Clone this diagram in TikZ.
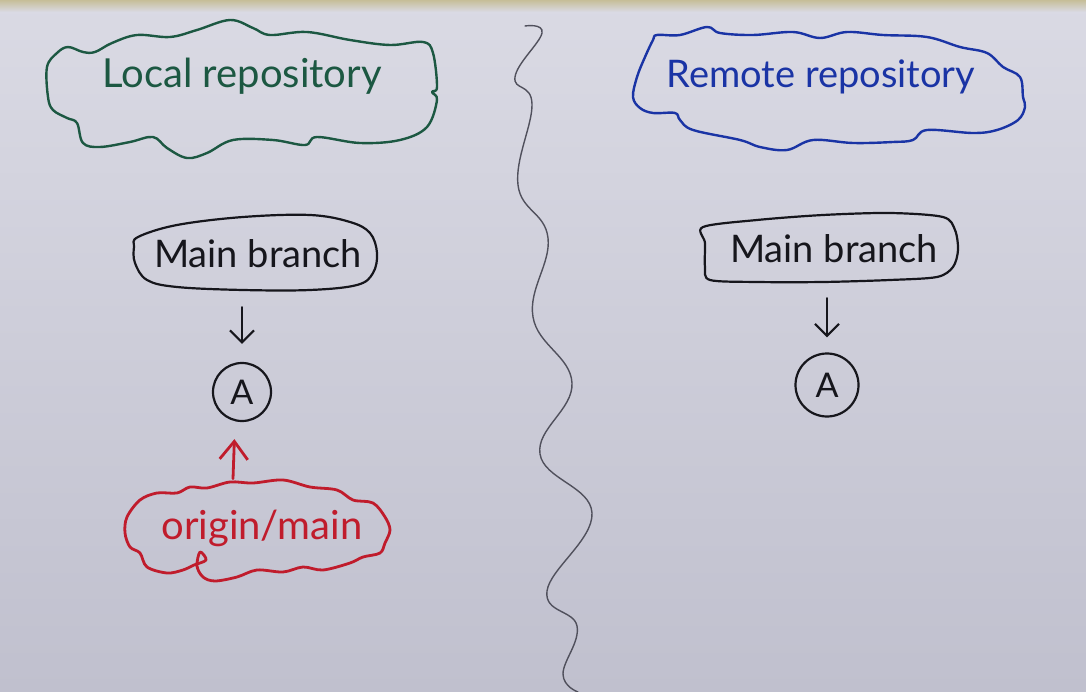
\documentclass[tikz,border=0pt]{standalone}
\usepackage{fontspec}
\setmainfont{Lato}
\usetikzlibrary{arrows.meta,calc}
\definecolor{paperT}{RGB}{218,218,228}
\definecolor{paperB}{RGB}{192,192,206}
\definecolor{tapec}{RGB}{198,190,152}
\definecolor{pgreen}{RGB}{28,88,66}
\definecolor{pblue}{RGB}{26,52,165}
\definecolor{pred}{RGB}{192,28,44}
\definecolor{inkblack}{RGB}{22,22,28}
\definecolor{pencil}{RGB}{80,80,92}
\begin{document}
\begin{tikzpicture}[x=1pt,y=-1pt,
  pen/.style={line width=2.4pt, line join=round, line cap=round},
  bigtxt/.style={font=\fontsize{40}{44}\selectfont, inner sep=0pt},
  midtxt/.style={font=\fontsize{38}{42}\selectfont, inner sep=0pt},
  commit/.style={circle, draw=inkblack, line width=2.2pt, inner sep=0pt, text=inkblack, font=\fontsize{34}{36}\selectfont},
  barrow/.style={pen, draw=inkblack, line width=2.2pt, -{Straight Barb[length=12pt,width=24pt,line width=2.2pt]}},
  rarrow/.style={pen, draw=pred, line width=2.8pt, -{Straight Barb[length=18pt,width=28pt,line width=2.8pt]}}
]
\useasboundingbox (0,0) rectangle (1086,692);
\fill[top color=paperT, bottom color=paperB] (0,0) rectangle (1086,692);
\fill[top color=tapec, bottom color=paperT] (0,0) rectangle (1086,12);

% divider
\draw[pencil, line width=1.4pt, line cap=round] plot[smooth, tension=0.7] coordinates {
 (525,26) (542,33) (515,77) (532,104) (518,185) (548,238) (533,317) (572,383)
 (540,454) (592,513) (547,591) (577,626) (563,674) (578,692)};

% nodes
\node[bigtxt, text=pgreen] (loc) at (242,76) {Local repository};
\node[bigtxt, text=pblue, font=\fontsize{38}{42}\selectfont] (rem) at (821,77) {Remote repository};
\node[midtxt, text=inkblack, minimum width=243pt, minimum height=74pt] (lbox) at (258,254) {Main branch};
\node[midtxt, text=inkblack, minimum width=256pt, minimum height=68pt] (rbox) at (834,249) {Main branch};
\node[commit, minimum size=58pt] (lA) at (242,392) {A};
\node[commit, minimum size=63pt] (rA) at (827,385) {A};
\node[midtxt, text=pred, font=\fontsize{40}{44}\selectfont, minimum width=265pt, minimum height=98pt] (ocl) at (262,528) {origin/main};

% green cloud
\draw[pen, pgreen] plot[smooth cycle, tension=0.6] coordinates {
 (68,47) (83,52) (95,52) (112,43) (137,35) (170,37) (197,30) (230,20) (253,28)
 (270,35) (307,32) (350,40) (390,45) (423,42) (433,53) (437,87) (432,92) (437,100)
 (427,127) (400,140) (360,143) (317,137) (305,145) (273,140) (233,140) (207,153)
 (187,158) (167,148) (153,137) (130,142) (100,147) (83,143) (77,123) (67,118)
 (53,110) (48,97) (47,67) (57,53)};

% blue cloud
\draw[pen, pblue] plot[smooth cycle, tension=0.6] coordinates {
 (657,35) (680,35) (707,27) (720,33) (753,35) (793,32) (820,38) (847,32) (883,35)
 (927,37) (960,47) (987,53) (1003,67) (1020,77) (1023,97) (1025,107) (1018,120)
 (997,130) (973,133) (927,130) (913,140) (893,142) (853,143) (813,140) (787,150)
 (760,147) (740,140) (693,130) (680,120) (675,113) (653,113) (640,108) (633,97)
 (637,77) (645,57) (653,40)};

% red cloud
\draw[pen, pred, line width=2.8pt] plot[smooth cycle, tension=0.55] coordinates {
 (140,500) (157,493) (177,493) (190,487) (207,488) (230,482) (253,483) (283,480)
 (310,487) (337,490) (353,500) (373,503) (385,517) (390,530) (385,543) (380,553)
 (363,557) (350,563) (323,570) (303,567) (283,572) (257,570) (237,577) (215,581)
 (203,577) (197,566) (200,552) (206,560) (194,565) (183,570) (167,573) (147,567) (140,553)
 (130,547) (125,533) (127,517)};

% left main branch box
\draw[pen, inkblack, line width=2.2pt] plot[smooth cycle, tension=0.6] coordinates {
 (138,237) (177,225) (243,217) (310,215) (350,222) (370,233) (377,253) (373,273)
 (357,285) (310,290) (243,290) (177,287) (147,280) (135,263) (134,247)};

% right main branch box
\draw[pen, inkblack, line width=2.2pt] plot[smooth cycle, tension=0.5] coordinates {
 (703,227) (757,220) (823,215) (890,213) (943,217) (955,230) (958,250) (953,267)
 (937,277) (890,280) (823,282) (757,282) (710,280) (705,267) (705,243)};

% arrows
\draw[barrow, shorten <=16pt, shorten >=18pt] (lbox.south -| lA) -- (lA.north);
\draw[barrow, shorten <=15pt, shorten >=15pt] (rbox.south -| rA) -- (rA.north);
\draw[rarrow, shorten >=17pt] ($(ocl.north -| lA)+(-9,0)$) -- ($(lA.south)+(-7,0)$);
\end{tikzpicture}
\end{document}
